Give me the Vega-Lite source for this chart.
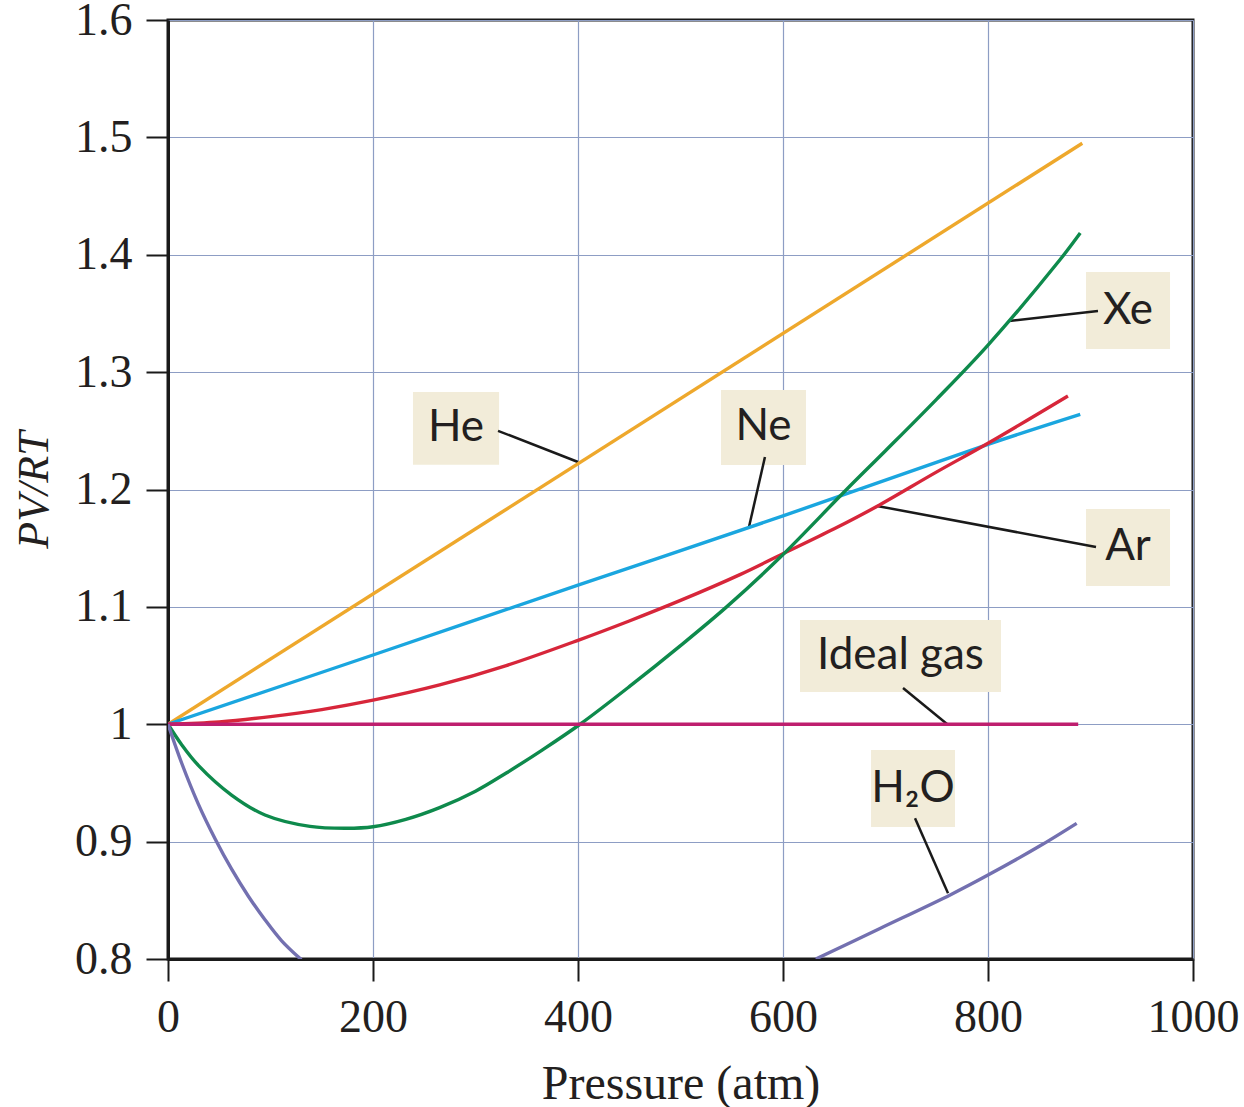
{
  "$schema": "https://vega.github.io/schema/vega-lite/v6.json",
  "autosize": {"type": "none"},
  "padding": {"left": 168, "top": 20, "right": 51, "bottom": 148},
  "width": 1025,
  "height": 939,
  "background": "white",
  "config": {
    "view": {"stroke": "#1a1a1a", "strokeWidth": 3},
    "axis": {
      "domainColor": "#1a1a1a",
      "domainWidth": 3,
      "tickColor": "#1a1a1a",
      "tickWidth": 2,
      "tickSize": 22,
      "gridColor": "#8d9dc4",
      "gridWidth": 1.2,
      "labelFont": "Liberation Serif",
      "labelFontSize": 46,
      "labelColor": "#231f20",
      "labelFlush": false,
      "titleFont": "Liberation Serif",
      "titleFontSize": 48,
      "titleFontWeight": "normal",
      "titleColor": "#231f20"
    }
  },
  "datasets": {
    "curves": [
      {"series": "He", "part": "a", "p": 0, "v": 1},
      {"series": "He", "part": "a", "p": 892, "v": 1.495},
      {"series": "Ne", "part": "a", "p": 0, "v": 1},
      {"series": "Ne", "part": "a", "p": 200, "v": 1.059},
      {"series": "Ne", "part": "a", "p": 400, "v": 1.1185},
      {"series": "Ne", "part": "a", "p": 600, "v": 1.1775},
      {"series": "Ne", "part": "a", "p": 800, "v": 1.2385},
      {"series": "Ne", "part": "a", "p": 890, "v": 1.264},
      {"series": "Ar", "part": "a", "p": 0, "v": 1},
      {"series": "Ar", "part": "a", "p": 50, "v": 1.002},
      {"series": "Ar", "part": "a", "p": 100, "v": 1.0065},
      {"series": "Ar", "part": "a", "p": 150, "v": 1.0125},
      {"series": "Ar", "part": "a", "p": 200, "v": 1.0205},
      {"series": "Ar", "part": "a", "p": 265, "v": 1.0335},
      {"series": "Ar", "part": "a", "p": 330, "v": 1.05},
      {"series": "Ar", "part": "a", "p": 400, "v": 1.0715},
      {"series": "Ar", "part": "a", "p": 450, "v": 1.088},
      {"series": "Ar", "part": "a", "p": 500, "v": 1.1055},
      {"series": "Ar", "part": "a", "p": 558, "v": 1.1275},
      {"series": "Ar", "part": "a", "p": 597, "v": 1.144},
      {"series": "Ar", "part": "a", "p": 650, "v": 1.1665},
      {"series": "Ar", "part": "a", "p": 691, "v": 1.1853},
      {"series": "Ar", "part": "a", "p": 750, "v": 1.215},
      {"series": "Ar", "part": "a", "p": 800, "v": 1.2394},
      {"series": "Ar", "part": "a", "p": 878, "v": 1.2797},
      {"series": "Xe", "part": "a", "p": 0, "v": 1},
      {"series": "Xe", "part": "a", "p": 13, "v": 0.983},
      {"series": "Xe", "part": "a", "p": 29.6, "v": 0.965},
      {"series": "Xe", "part": "a", "p": 62, "v": 0.9397},
      {"series": "Xe", "part": "a", "p": 94.6, "v": 0.9227},
      {"series": "Xe", "part": "a", "p": 138.5, "v": 0.913},
      {"series": "Xe", "part": "a", "p": 174, "v": 0.9114},
      {"series": "Xe", "part": "a", "p": 200, "v": 0.9127},
      {"series": "Xe", "part": "a", "p": 232, "v": 0.919},
      {"series": "Xe", "part": "a", "p": 265, "v": 0.929},
      {"series": "Xe", "part": "a", "p": 300, "v": 0.943},
      {"series": "Xe", "part": "a", "p": 330, "v": 0.9585},
      {"series": "Xe", "part": "a", "p": 365, "v": 0.978},
      {"series": "Xe", "part": "a", "p": 402, "v": 1.0},
      {"series": "Xe", "part": "a", "p": 450, "v": 1.032},
      {"series": "Xe", "part": "a", "p": 500, "v": 1.067},
      {"series": "Xe", "part": "a", "p": 545, "v": 1.1},
      {"series": "Xe", "part": "a", "p": 597, "v": 1.142},
      {"series": "Xe", "part": "a", "p": 662, "v": 1.2},
      {"series": "Xe", "part": "a", "p": 700, "v": 1.233},
      {"series": "Xe", "part": "a", "p": 750, "v": 1.277},
      {"series": "Xe", "part": "a", "p": 800, "v": 1.323},
      {"series": "Xe", "part": "a", "p": 870, "v": 1.3955},
      {"series": "Xe", "part": "a", "p": 890, "v": 1.4185},
      {"series": "Ideal gas", "part": "a", "p": 0, "v": 1},
      {"series": "Ideal gas", "part": "a", "p": 888, "v": 1},
      {"series": "H2O", "part": "a", "p": 0, "v": 1},
      {"series": "H2O", "part": "a", "p": 13.3, "v": 0.967},
      {"series": "H2O", "part": "a", "p": 29.6, "v": 0.932},
      {"series": "H2O", "part": "a", "p": 45.9, "v": 0.9025},
      {"series": "H2O", "part": "a", "p": 62.1, "v": 0.8765},
      {"series": "H2O", "part": "a", "p": 78.4, "v": 0.8535},
      {"series": "H2O", "part": "a", "p": 94.6, "v": 0.8335},
      {"series": "H2O", "part": "a", "p": 110.9, "v": 0.8155},
      {"series": "H2O", "part": "a", "p": 130, "v": 0.7995},
      {"series": "H2O", "part": "b", "p": 632, "v": 0.8},
      {"series": "H2O", "part": "b", "p": 694.6, "v": 0.826},
      {"series": "H2O", "part": "b", "p": 764, "v": 0.855},
      {"series": "H2O", "part": "b", "p": 800, "v": 0.8715},
      {"series": "H2O", "part": "b", "p": 850, "v": 0.896},
      {"series": "H2O", "part": "b", "p": 886.5, "v": 0.9156}
    ],
    "labels": [
      {"label": "He", "p0": 239, "p1": 323, "v0": 1.221, "v1": 1.283, "pc": 281, "vc": 1.252, "lp0": 322, "lv0": 1.25, "lp1": 400, "lv1": 1.2234},
      {"label": "Ne", "p0": 539.5, "p1": 622.4, "v0": 1.2209, "v1": 1.2848, "pc": 581, "vc": 1.2529, "lp0": 582.4, "lv0": 1.2277, "lp1": 566.8, "lv1": 1.168},
      {"label": "Xe", "p0": 895.6, "p1": 977.6, "v0": 1.3197, "v1": 1.3853, "pc": 936.6, "vc": 1.3525, "lp0": 907.3, "lv0": 1.352, "lp1": 820.5, "lv1": 1.3436},
      {"label": "Ar", "p0": 895.6, "p1": 977.6, "v0": 1.1178, "v1": 1.1834, "pc": 936.6, "vc": 1.1506, "lp0": 905.4, "lv0": 1.151, "lp1": 691.7, "lv1": 1.186},
      {"label": "Ideal gas", "p0": 616.6, "p1": 812.7, "v0": 1.0275, "v1": 1.0888, "pc": 714.6, "vc": 1.058, "lp0": 717.1, "lv0": 1.0309, "lp1": 760, "lv1": 1.0002},
      {"label": "H₂O", "p0": 685.9, "p1": 767.8, "v0": 0.9125, "v1": 0.978, "pc": 726.8, "vc": 0.945, "lp0": 728.8, "lv0": 0.92, "lp1": 761, "lv1": 0.856}
    ]
  },
  "layer": [
    {
      "data": {"name": "labels"},
      "mark": {"type": "rect", "fill": "#f2ecd9"},
      "encoding": {
        "x": {"field": "p0", "type": "quantitative", "scale": {"domain": [0, 1000]}, "axis": {"values": [0, 200, 400, 600, 800, 1000], "format": "d", "title": "Pressure (atm)", "labelPadding": 14, "titlePadding": 20, "grid": true}},
        "x2": {"field": "p1"},
        "y": {"field": "v0", "type": "quantitative", "scale": {"domain": [0.8, 1.6]}, "axis": {"values": [0.8, 0.9, 1, 1.1, 1.2, 1.3, 1.4, 1.5, 1.6], "format": ".1~f", "title": "PV/RT", "titleFontStyle": "italic", "titleFontSize": 44, "labelPadding": 14, "titlePadding": 18, "grid": true}},
        "y2": {"field": "v1"}
      }
    },
    {
      "data": {"name": "labels"},
      "mark": {"type": "rule", "color": "#1a1a1a", "strokeWidth": 2.5},
      "encoding": {
        "x": {"field": "lp0", "type": "quantitative"},
        "x2": {"field": "lp1"},
        "y": {"field": "lv0", "type": "quantitative"},
        "y2": {"field": "lv1"}
      }
    },
    {
      "data": {"name": "curves"},
      "mark": {"type": "line", "strokeWidth": 3.4, "interpolate": "catmull-rom", "clip": true},
      "encoding": {
        "x": {"field": "p", "type": "quantitative"},
        "y": {"field": "v", "type": "quantitative"},
        "color": {"field": "series", "type": "nominal", "legend": null, "scale": {"domain": ["He", "Ne", "Ar", "Xe", "Ideal gas", "H2O"], "range": ["#eea82c", "#1aa6df", "#d7263a", "#0e8a4c", "#be1e6e", "#7370b0"]}},
        "detail": {"field": "part", "type": "nominal"}
      }
    },
    {
      "data": {"name": "labels"},
      "mark": {"type": "text", "font": "Lato", "fontSize": 44, "color": "#231f20", "align": "center", "baseline": "middle"},
      "encoding": {
        "x": {"field": "pc", "type": "quantitative"},
        "y": {"field": "vc", "type": "quantitative"},
        "text": {"field": "label"}
      }
    }
  ]
}
